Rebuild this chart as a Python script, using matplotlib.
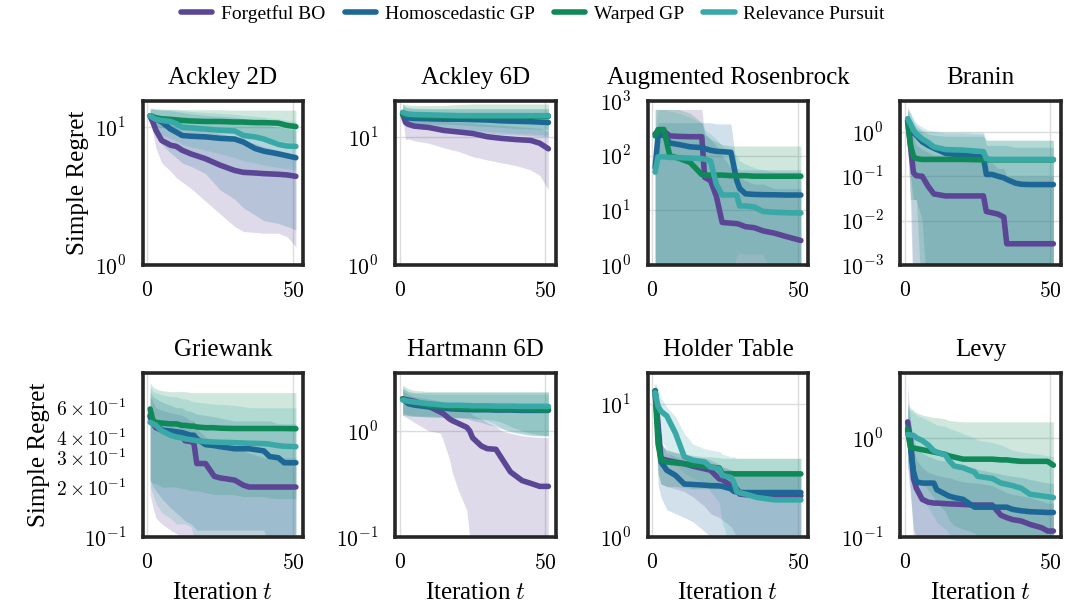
import matplotlib
matplotlib.use("Agg")
import matplotlib.pyplot as plt
from matplotlib.ticker import LogFormatterSciNotation

# ---- global look ----
plt.rcParams["font.family"] = ["Liberation Serif", "DejaVu Serif"]
plt.rcParams["mathtext.fontset"] = "cm"

methods = ["Forgetful BO", "Homoscedastic GP", "Warped GP", "Relevance Pursuit"]
colors = ["#5b4696", "#1d6797", "#0f8957", "#39a9a7"]
titles = ["Ackley 2D", "Ackley 6D", "Augmented Rosenbrock", "Branin",
          "Griewank", "Hartmann 6D", "Holder Table", "Levy"]
ylims = [(1, 15.5), (1, 19), (1, 1000), (1e-3, 5),
         (0.1, 0.97), (0.1, 3.5), (1, 17), (0.1, 4.5)]

# ---- Ackley 2D ----
ack2_x = [1, 2, 3, 5, 8, 10, 12, 15, 20, 25, 30, 33, 37, 40, 45, 48, 51]
ack2_fbo = [12.0, 10.8, 9.5, 8.0, 7.4, 7.25, 6.8, 6.4, 5.9, 5.3, 4.85, 4.7, 4.65, 4.6, 4.55, 4.5, 4.4]
ack2_fbo_lo = [11.5, 9.0, 7.0, 5.5, 4.8, 4.3, 4.0, 3.6, 2.9, 2.35, 1.9, 1.75, 1.72, 1.7, 1.7, 1.6, 1.35]
ack2_fbo_hi = [12.8, 12.6, 12.4, 12.0, 11.5, 11.0, 10.5, 10.0, 9.5, 9.0, 8.5, 8.0, 7.6, 7.2, 6.8, 6.5, 6.2]
ack2_hom = [12.1, 11.8, 11.5, 10.9, 9.7, 9.2, 8.7, 8.6, 8.5, 8.3, 8.2, 7.8, 7.0, 6.7, 6.4, 6.2, 6.0]
ack2_hom_lo = [11.0, 9.5, 8.5, 7.5, 6.5, 6.0, 5.5, 5.2, 4.6, 3.5, 3.0, 2.6, 2.3, 2.1, 2.0, 1.9, 1.8]
ack2_hom_hi = [13.5, 13.5, 13.4, 13.3, 13.2, 13.0, 12.8, 12.5, 12.2, 12.0, 11.8, 11.5, 11.0, 10.5, 10.0, 9.8, 9.5]
ack2_wgp = [12.1, 11.9, 11.7, 11.5, 11.4, 11.3, 11.2, 11.1, 11.0, 11.0, 10.9, 10.9, 10.8, 10.8, 10.7, 10.3, 10.1]
ack2_wgp_lo = [11.0, 10.5, 10.2, 10.0, 9.8, 9.6, 9.5, 9.4, 9.3, 9.2, 9.0, 8.8, 8.5, 8.2, 8.0, 7.8, 7.6]
ack2_wgp_hi = [13.6, 13.6, 13.5, 13.5, 13.5, 13.5, 13.4, 13.4, 13.4, 13.4, 13.3, 13.3, 13.3, 13.3, 13.3, 13.3, 13.3]
ack2_rp = [12.1, 11.7, 11.4, 11.2, 11.0, 10.6, 10.0, 9.9, 9.7, 9.5, 9.4, 8.7, 8.5, 8.2, 7.5, 7.3, 7.25]
ack2_rp_lo = [11.0, 10.0, 9.3, 8.8, 8.3, 8.0, 7.5, 7.2, 6.8, 6.4, 6.0, 5.7, 5.5, 5.3, 5.1, 5.0, 4.9]
ack2_rp_hi = [13.8, 13.8, 13.6, 13.5, 13.4, 13.3, 13.2, 13.0, 12.8, 12.6, 12.4, 12.2, 12.0, 11.8, 11.5, 11.2, 11.0]

# ---- Ackley 6D ----
ack6_x = [1, 2, 3, 5, 10, 15, 20, 25, 30, 35, 40, 45, 48, 51]
ack6_fbo = [15.0, 12.9, 12.5, 12.1, 11.8, 11.2, 10.9, 10.6, 10.0, 9.7, 9.5, 9.35, 8.9, 8.05]
ack6_fbo_lo = [14.0, 9.5, 9.6, 9.3, 8.9, 8.2, 7.7, 7.0, 6.6, 6.25, 5.95, 5.5, 5.0, 3.85]
ack6_fbo_hi = [16.5, 14.5, 14.0, 13.8, 13.5, 13.2, 13.0, 12.8, 12.5, 12.3, 12.0, 11.8, 11.6, 11.0]
ack6_hom = [15.0, 14.3, 14.0, 13.9, 13.8, 13.7, 13.7, 13.6, 13.5, 13.3, 13.2, 13.1, 13.0, 12.9]
ack6_hom_lo = [13.5, 12.0, 11.8, 11.6, 11.4, 11.2, 11.0, 10.8, 10.6, 10.4, 10.3, 10.2, 10.1, 10.0]
ack6_hom_hi = [17.5, 17.0, 16.8, 16.6, 16.5, 16.5, 16.5, 16.5, 16.5, 16.5, 16.5, 16.5, 16.5, 16.5]
ack6_wgp = [15.0, 14.8, 14.7, 14.6, 14.5, 14.5, 14.5, 14.4, 14.4, 14.4, 14.4, 14.4, 14.4, 14.4]
ack6_wgp_lo = [14.0, 13.2, 13.0, 12.8, 12.6, 12.5, 12.4, 12.2, 12.0, 11.8, 11.6, 11.5, 11.4, 11.4]
ack6_wgp_hi = [18.0, 17.8, 17.6, 17.5, 17.5, 17.5, 17.8, 18.0, 18.0, 18.0, 18.0, 18.0, 18.0, 18.0]
ack6_rp = [15.5, 15.2, 15.0, 14.9, 14.8, 14.7, 14.6, 14.6, 14.6, 14.6, 14.6, 14.6, 14.6, 14.6]
ack6_rp_lo = [13.8, 12.5, 12.3, 12.2, 12.0, 11.8, 11.5, 11.2, 11.0, 10.8, 10.6, 10.5, 10.4, 10.3]
ack6_rp_hi = [18.0, 17.0, 16.8, 16.7, 16.6, 16.6, 16.6, 16.6, 16.6, 16.6, 16.6, 16.6, 16.6, 16.6]

# ---- Augmented Rosenbrock ----
rosen_x = [1, 2, 4, 6, 9, 13, 17, 18, 20, 22, 24, 27, 29, 30, 32, 35, 38, 42, 46, 51]
rosen_fbo = [250, 280, 280, 230, 225, 222, 222, 40, 35, 18, 6.0, 5.8, 5.7, 5.5, 5.0, 4.8, 4.2, 3.8, 3.3, 2.8]
rosen_fbo_lo = [0.5, 0.5, 0.5, 0.5, 0.5, 0.5, 0.5, 0.5, 0.5, 0.5, 0.5, 0.5, 0.5, 0.5, 0.5, 0.5, 0.5, 0.5, 0.5, 0.5]
rosen_fbo_hi = [700, 700, 700, 700, 700, 700, 700, 250, 200, 150, 100, 60, 50, 40, 35, 30, 30, 25, 25, 25]
rosen_hom = [60, 230, 240, 170, 160, 145, 140, 135, 125, 120, 118, 115, 35, 25, 20, 19.5, 19.3, 19.2, 19.0, 19.0]
rosen_hom_lo = [0.5, 0.5, 0.5, 0.5, 0.5, 0.5, 0.5, 0.5, 0.5, 0.5, 0.5, 0.5, 0.5, 0.5, 0.5, 0.5, 0.5, 0.5, 0.5, 0.5]
rosen_hom_hi = [150, 400, 400, 400, 400, 400, 400, 400, 400, 380, 380, 380, 60, 55, 55, 55, 55, 55, 55, 55]
rosen_wgp = [230, 300, 300, 100, 90, 75, 45, 44, 44, 44, 44, 43, 43, 43, 43, 42, 42, 42, 42, 42]
rosen_wgp_lo = [0.5, 0.5, 0.5, 0.5, 0.5, 0.5, 0.5, 0.5, 0.5, 0.5, 0.5, 0.5, 0.5, 0.5, 0.5, 0.5, 0.5, 0.5, 0.5, 0.5]
rosen_wgp_hi = [700, 700, 700, 700, 700, 600, 400, 250, 200, 180, 160, 150, 150, 150, 150, 150, 150, 150, 150, 150]
rosen_rp = [50, 95, 95, 93, 92, 90, 88, 86, 80, 30, 19, 19, 19, 12, 12, 11.5, 9.5, 9.2, 9.0, 8.9]
rosen_rp_lo = [0.5, 0.5, 0.5, 0.5, 0.5, 0.5, 0.5, 0.5, 0.5, 0.5, 0.5, 0.5, 1.6, 1.6, 1.6, 1.6, 1.6, 0.5, 0.5, 0.5]
rosen_rp_hi = [300, 700, 700, 650, 600, 500, 400, 300, 250, 200, 150, 120, 100, 80, 70, 60, 55, 50, 50, 50]

# ---- Branin ----
bran_x = [1, 2, 3, 4, 6, 8, 10, 14, 20, 27, 28, 30, 32, 34, 35, 38, 40, 43, 46, 51]
bran_fbo = [1.8, 0.46, 0.12, 0.103, 0.1, 0.06, 0.04, 0.036, 0.036, 0.036, 0.016, 0.015, 0.014, 0.012, 0.003, 0.003, 0.003, 0.003, 0.003, 0.003]
bran_fbo_lo = [0.5, 0.02, 1e-4, 1e-4, 1e-4, 1e-4, 1e-4, 1e-4, 1e-4, 1e-4, 1e-4, 1e-4, 1e-4, 1e-4, 1e-4, 1e-4, 1e-4, 1e-4, 1e-4, 1e-4]
bran_fbo_hi = [3.0, 1.5, 0.8, 0.5, 0.4, 0.35, 0.3, 0.3, 0.3, 0.3, 0.2, 0.2, 0.15, 0.15, 0.1, 0.1, 0.1, 0.1, 0.1, 0.1]
bran_hom = [1.8, 1.1, 0.95, 0.84, 0.6, 0.5, 0.43, 0.33, 0.3, 0.27, 0.11, 0.11, 0.1, 0.092, 0.085, 0.07, 0.066, 0.065, 0.065, 0.065]
bran_hom_lo = [0.8, 0.1, 0.03, 0.03, 0.01, 1e-4, 1e-4, 1e-4, 1e-4, 1e-4, 1e-4, 1e-4, 1e-4, 1e-4, 1e-4, 1e-4, 1e-4, 1e-4, 1e-4, 1e-4]
bran_hom_hi = [3.5, 2.5, 1.8, 1.4, 1.1, 1.0, 1.0, 0.95, 0.95, 0.9, 0.5, 0.5, 0.5, 0.5, 0.5, 0.45, 0.45, 0.45, 0.45, 0.45]
bran_wgp = [1.8, 0.5, 0.28, 0.25, 0.24, 0.24, 0.24, 0.24, 0.24, 0.235, 0.235, 0.235, 0.235, 0.235, 0.235, 0.235, 0.235, 0.235, 0.235, 0.235]
bran_wgp_lo = [0.6, 0.03, 0.03, 0.03, 1e-4, 1e-4, 1e-4, 1e-4, 1e-4, 1e-4, 1e-4, 1e-4, 1e-4, 1e-4, 1e-4, 1e-4, 1e-4, 1e-4, 1e-4, 1e-4]
bran_wgp_hi = [3.0, 2.0, 1.5, 1.2, 1.0, 0.9, 0.85, 0.8, 0.8, 0.8, 0.65, 0.65, 0.65, 0.65, 0.65, 0.65, 0.65, 0.65, 0.65, 0.65]
bran_rp = [2.0, 1.5, 1.1, 0.9, 0.7, 0.58, 0.46, 0.4, 0.39, 0.36, 0.25, 0.24, 0.24, 0.24, 0.24, 0.24, 0.24, 0.24, 0.24, 0.24]
bran_rp_lo = [1.0, 0.2, 1e-4, 1e-4, 1e-4, 1e-4, 1e-4, 1e-4, 1e-4, 1e-4, 1e-4, 1e-4, 1e-4, 1e-4, 1e-4, 1e-4, 1e-4, 1e-4, 1e-4, 1e-4]
bran_rp_hi = [3.5, 2.8, 2.0, 1.6, 1.3, 1.1, 1.05, 1.0, 1.0, 1.0, 0.65, 0.65, 0.65, 0.65, 0.65, 0.65, 0.65, 0.65, 0.65, 0.65]

# ---- Griewank ----
grie_x = [1, 2, 3, 5, 8, 10, 12, 13, 15, 16, 17, 20, 23, 25, 30, 33, 35, 40, 42, 45, 47, 51]
grie_fbo = [0.53, 0.48, 0.455, 0.44, 0.43, 0.425, 0.4, 0.38, 0.375, 0.37, 0.277, 0.277, 0.232, 0.227, 0.22, 0.205, 0.2, 0.2, 0.2, 0.2, 0.2, 0.2]
grie_fbo_lo = [0.18, 0.15, 0.13, 0.12, 0.11, 0.105, 0.1, 0.1, 0.1, 0.09, 0.08, 0.08, 0.08, 0.08, 0.08, 0.08, 0.08, 0.08, 0.08, 0.08, 0.08, 0.08]
grie_fbo_hi = [0.7, 0.65, 0.6, 0.58, 0.56, 0.55, 0.54, 0.53, 0.5, 0.5, 0.45, 0.4, 0.38, 0.36, 0.35, 0.33, 0.32, 0.3, 0.3, 0.3, 0.3, 0.3]
grie_hom = [0.54, 0.5, 0.48, 0.44, 0.435, 0.43, 0.425, 0.42, 0.41, 0.41, 0.39, 0.36, 0.355, 0.35, 0.34, 0.34, 0.34, 0.33, 0.305, 0.3, 0.28, 0.28]
grie_hom_lo = [0.22, 0.2, 0.19, 0.17, 0.15, 0.14, 0.13, 0.125, 0.12, 0.115, 0.11, 0.11, 0.11, 0.11, 0.11, 0.11, 0.11, 0.11, 0.09, 0.09, 0.09, 0.09]
grie_hom_hi = [0.75, 0.7, 0.68, 0.65, 0.62, 0.6, 0.6, 0.58, 0.57, 0.56, 0.55, 0.54, 0.53, 0.52, 0.5, 0.5, 0.5, 0.5, 0.5, 0.48, 0.48, 0.48]
grie_wgp = [0.59, 0.5, 0.49, 0.485, 0.48, 0.48, 0.47, 0.47, 0.465, 0.465, 0.46, 0.455, 0.455, 0.452, 0.45, 0.45, 0.45, 0.45, 0.45, 0.45, 0.45, 0.449]
grie_wgp_lo = [0.22, 0.21, 0.21, 0.2, 0.2, 0.2, 0.195, 0.195, 0.19, 0.19, 0.19, 0.185, 0.18, 0.18, 0.18, 0.175, 0.175, 0.175, 0.172, 0.17, 0.17, 0.17]
grie_wgp_hi = [0.85, 0.8, 0.78, 0.76, 0.75, 0.75, 0.75, 0.75, 0.74, 0.74, 0.74, 0.74, 0.74, 0.74, 0.74, 0.74, 0.74, 0.74, 0.74, 0.74, 0.74, 0.74]
grie_rp = [0.49, 0.48, 0.47, 0.435, 0.41, 0.4, 0.395, 0.39, 0.385, 0.383, 0.38, 0.375, 0.373, 0.372, 0.37, 0.368, 0.367, 0.365, 0.362, 0.355, 0.352, 0.35]
grie_rp_lo = [0.2, 0.18, 0.16, 0.14, 0.13, 0.12, 0.12, 0.12, 0.115, 0.1, 0.09, 0.09, 0.09, 0.09, 0.09, 0.09, 0.09, 0.09, 0.09, 0.09, 0.09, 0.09]
grie_rp_hi = [0.8, 0.75, 0.74, 0.72, 0.7, 0.7, 0.68, 0.68, 0.66, 0.65, 0.65, 0.64, 0.63, 0.63, 0.62, 0.61, 0.6, 0.6, 0.6, 0.6, 0.6, 0.6]

# ---- Hartmann 6D ----
hart_x = [1, 3, 5, 10, 14, 15, 17, 18, 20, 23, 24, 25, 28, 30, 33, 35, 38, 42, 45, 48, 51]
hart_fbo = [2.0, 1.95, 1.9, 1.7, 1.5, 1.45, 1.3, 1.25, 1.18, 1.08, 1.0, 0.86, 0.72, 0.68, 0.67, 0.55, 0.41, 0.34, 0.32, 0.3, 0.3]
hart_fbo_lo = [1.4, 1.3, 1.2, 1.0, 0.95, 0.8, 0.55, 0.41, 0.28, 0.18, 0.1, 0.05, 0.05, 0.05, 0.05, 0.05, 0.05, 0.05, 0.05, 0.05, 0.05]
hart_fbo_hi = [2.4, 2.2, 2.1, 2.0, 1.9, 1.85, 1.8, 1.75, 1.7, 1.6, 1.5, 1.4, 1.3, 1.2, 1.1, 1.0, 0.95, 0.9, 0.88, 0.87, 0.86]
hart_hom = [2.0, 1.8, 1.75, 1.68, 1.65, 1.64, 1.62, 1.61, 1.6, 1.59, 1.59, 1.58, 1.58, 1.58, 1.57, 1.57, 1.57, 1.56, 1.56, 1.56, 1.56]
hart_hom_lo = [1.45, 1.4, 1.38, 1.35, 1.34, 1.34, 1.33, 1.33, 1.32, 1.3, 1.28, 1.25, 1.2, 1.15, 1.1, 1.05, 0.98, 0.93, 0.9, 0.9, 0.9]
hart_hom_hi = [2.5, 2.35, 2.3, 2.3, 2.3, 2.3, 2.3, 2.3, 2.3, 2.3, 2.3, 2.3, 2.3, 2.3, 2.3, 2.3, 2.3, 2.3, 2.3, 2.3, 2.3]
hart_wgp = [2.0, 1.9, 1.85, 1.74, 1.7, 1.69, 1.67, 1.66, 1.65, 1.64, 1.63, 1.63, 1.62, 1.62, 1.61, 1.6, 1.6, 1.59, 1.59, 1.58, 1.58]
hart_wgp_lo = [1.4, 1.38, 1.37, 1.36, 1.35, 1.35, 1.35, 1.34, 1.34, 1.33, 1.33, 1.32, 1.3, 1.28, 1.25, 1.2, 1.1, 1.0, 0.95, 0.92, 0.9]
hart_wgp_hi = [2.7, 2.5, 2.4, 2.35, 2.35, 2.35, 2.35, 2.35, 2.35, 2.35, 2.35, 2.35, 2.35, 2.35, 2.35, 2.35, 2.35, 2.35, 2.35, 2.35, 2.35]
hart_rp = [1.95, 1.9, 1.87, 1.8, 1.76, 1.75, 1.74, 1.74, 1.74, 1.73, 1.73, 1.72, 1.72, 1.72, 1.71, 1.71, 1.71, 1.7, 1.7, 1.7, 1.7]
hart_rp_lo = [1.45, 1.42, 1.4, 1.38, 1.37, 1.36, 1.35, 1.35, 1.34, 1.33, 1.32, 1.3, 1.28, 1.25, 1.15, 1.05, 1.0, 0.95, 0.92, 0.9, 0.9]
hart_rp_hi = [2.6, 2.3, 2.25, 2.2, 2.2, 2.2, 2.2, 2.2, 2.2, 2.2, 2.2, 2.2, 2.2, 2.2, 2.2, 2.2, 2.2, 2.2, 2.2, 2.2, 2.2]

# ---- Holder Table ----
hold_x = [1, 2, 3, 5, 8, 11, 14, 18, 20, 23, 24, 27, 28, 29, 30, 32, 36, 42, 51]
hold_fbo = [12.5, 7.0, 3.88, 3.77, 3.65, 3.55, 3.4, 3.25, 3.17, 2.73, 2.7, 2.43, 2.4, 2.3, 2.1, 2.08, 2.06, 2.05, 2.04]
hold_fbo_lo = [10.0, 3.0, 2.5, 2.4, 2.3, 2.2, 2.0, 1.7, 1.5, 1.4, 1.35, 1.2, 1.1, 1.0, 0.9, 0.8, 0.8, 0.8, 0.8]
hold_fbo_hi = [14.0, 11.0, 5.0, 4.5, 4.3, 4.2, 4.0, 3.9, 3.8, 3.5, 3.4, 3.2, 3.1, 3.0, 2.9, 2.9, 2.9, 2.9, 2.9]
hold_hom = [12.5, 6.2, 3.66, 3.17, 2.9, 2.5, 2.48, 2.45, 2.43, 2.42, 2.4, 2.3, 2.2, 2.18, 2.17, 2.16, 2.16, 2.16, 2.16]
hold_hom_lo = [10.0, 2.5, 2.0, 1.6, 1.5, 1.4, 1.3, 1.1, 1.0, 0.8, 0.8, 0.8, 0.8, 0.8, 0.8, 0.8, 0.8, 0.8, 0.8]
hold_hom_hi = [14.0, 10.0, 5.0, 4.3, 4.0, 3.8, 3.7, 3.6, 3.5, 3.4, 3.3, 3.2, 3.1, 3.0, 3.0, 3.0, 3.0, 3.0, 3.0]
hold_wgp = [12.5, 5.0, 3.8, 3.66, 3.6, 3.55, 3.5, 3.4, 3.35, 3.3, 2.98, 2.98, 2.98, 2.98, 2.98, 2.98, 2.98, 2.98, 2.98]
hold_wgp_lo = [10.0, 3.0, 2.5, 2.4, 2.4, 2.35, 2.3, 2.3, 2.3, 2.3, 2.3, 2.3, 2.3, 2.3, 2.3, 2.3, 2.3, 2.3, 2.3]
hold_wgp_hi = [14.0, 12.0, 5.0, 4.5, 4.3, 4.2, 4.1, 4.0, 4.0, 3.95, 3.9, 3.9, 3.9, 3.9, 3.9, 3.9, 3.9, 3.9, 3.9]
hold_rp = [12.1, 9.6, 8.8, 8.1, 6.0, 4.0, 3.77, 3.66, 3.35, 3.25, 2.9, 2.8, 2.58, 2.2, 2.15, 2.1, 1.98, 1.9, 1.9]
hold_rp_lo = [9.5, 7.0, 5.5, 4.5, 3.5, 3.0, 2.8, 2.5, 2.2, 1.8, 1.3, 0.8, 0.8, 0.8, 0.8, 0.8, 0.8, 0.8, 0.8]
hold_rp_hi = [14.5, 13.0, 11.0, 9.5, 8.0, 6.0, 5.0, 4.6, 4.5, 4.4, 4.2, 4.0, 4.0, 3.9, 3.9, 3.9, 3.9, 3.9, 3.9]

# ---- Levy ----
levy_x = [1, 2, 3, 4, 6, 8, 10, 11, 14, 15, 17, 20, 24, 25, 30, 33, 35, 37, 40, 43, 47, 49, 51]
levy_fbo = [1.45, 0.94, 0.39, 0.31, 0.24, 0.225, 0.22, 0.22, 0.217, 0.216, 0.215, 0.213, 0.21, 0.21, 0.21, 0.166, 0.157, 0.15, 0.145, 0.134, 0.124, 0.115, 0.115]
levy_fbo_lo = [0.6, 0.3, 0.1, 0.08, 0.07, 0.07, 0.07, 0.07, 0.07, 0.07, 0.07, 0.07, 0.07, 0.07, 0.07, 0.07, 0.07, 0.07, 0.07, 0.07, 0.07, 0.07, 0.07]
levy_fbo_hi = [3.3, 1.5, 0.8, 0.6, 0.5, 0.45, 0.43, 0.42, 0.4, 0.4, 0.38, 0.36, 0.35, 0.35, 0.33, 0.3, 0.28, 0.27, 0.26, 0.25, 0.23, 0.22, 0.22]
levy_hom = [1.19, 0.8, 0.46, 0.36, 0.35, 0.35, 0.35, 0.3, 0.27, 0.26, 0.25, 0.24, 0.2, 0.2, 0.2, 0.2, 0.2, 0.19, 0.184, 0.18, 0.178, 0.177, 0.177]
levy_hom_lo = [0.5, 0.25, 0.12, 0.1, 0.09, 0.08, 0.08, 0.08, 0.08, 0.08, 0.08, 0.08, 0.08, 0.08, 0.08, 0.08, 0.08, 0.08, 0.08, 0.08, 0.08, 0.08, 0.08]
levy_hom_hi = [2.0, 1.4, 1.0, 0.8, 0.7, 0.65, 0.62, 0.6, 0.58, 0.56, 0.55, 0.52, 0.5, 0.48, 0.45, 0.43, 0.42, 0.41, 0.4, 0.38, 0.36, 0.35, 0.35]
levy_wgp = [1.24, 0.8, 0.79, 0.78, 0.76, 0.74, 0.72, 0.71, 0.68, 0.66, 0.64, 0.61, 0.61, 0.61, 0.61, 0.6, 0.6, 0.59, 0.58, 0.58, 0.58, 0.58, 0.53]
levy_wgp_lo = [0.6, 0.45, 0.42, 0.4, 0.35, 0.3, 0.25, 0.22, 0.18, 0.15, 0.13, 0.12, 0.11, 0.1, 0.09, 0.09, 0.09, 0.09, 0.09, 0.09, 0.09, 0.09, 0.09]
levy_wgp_hi = [2.2, 2.0, 1.9, 1.8, 1.7, 1.65, 1.6, 1.6, 1.55, 1.5, 1.48, 1.45, 1.45, 1.45, 1.45, 1.45, 1.45, 1.45, 1.45, 1.45, 1.45, 1.45, 1.45]
levy_rp = [1.08, 1.07, 1.06, 1.0, 0.94, 0.85, 0.74, 0.72, 0.67, 0.6, 0.52, 0.5, 0.45, 0.41, 0.39, 0.35, 0.34, 0.33, 0.31, 0.27, 0.26, 0.255, 0.25]
levy_rp_lo = [0.5, 0.4, 0.35, 0.3, 0.25, 0.2, 0.16, 0.14, 0.12, 0.11, 0.1, 0.09, 0.09, 0.09, 0.09, 0.09, 0.09, 0.09, 0.09, 0.09, 0.09, 0.09, 0.09]
levy_rp_hi = [2.0, 1.9, 1.8, 1.7, 1.6, 1.5, 1.4, 1.35, 1.3, 1.25, 1.2, 1.1, 1.0, 0.95, 0.9, 0.85, 0.8, 0.75, 0.72, 0.7, 0.68, 0.66, 0.65]

panels = [
    (ack2_x, [(ack2_fbo, ack2_fbo_lo, ack2_fbo_hi), (ack2_hom, ack2_hom_lo, ack2_hom_hi),
              (ack2_wgp, ack2_wgp_lo, ack2_wgp_hi), (ack2_rp, ack2_rp_lo, ack2_rp_hi)]),
    (ack6_x, [(ack6_fbo, ack6_fbo_lo, ack6_fbo_hi), (ack6_hom, ack6_hom_lo, ack6_hom_hi),
              (ack6_wgp, ack6_wgp_lo, ack6_wgp_hi), (ack6_rp, ack6_rp_lo, ack6_rp_hi)]),
    (rosen_x, [(rosen_fbo, rosen_fbo_lo, rosen_fbo_hi), (rosen_hom, rosen_hom_lo, rosen_hom_hi),
               (rosen_wgp, rosen_wgp_lo, rosen_wgp_hi), (rosen_rp, rosen_rp_lo, rosen_rp_hi)]),
    (bran_x, [(bran_fbo, bran_fbo_lo, bran_fbo_hi), (bran_hom, bran_hom_lo, bran_hom_hi),
              (bran_wgp, bran_wgp_lo, bran_wgp_hi), (bran_rp, bran_rp_lo, bran_rp_hi)]),
    (grie_x, [(grie_fbo, grie_fbo_lo, grie_fbo_hi), (grie_hom, grie_hom_lo, grie_hom_hi),
              (grie_wgp, grie_wgp_lo, grie_wgp_hi), (grie_rp, grie_rp_lo, grie_rp_hi)]),
    (hart_x, [(hart_fbo, hart_fbo_lo, hart_fbo_hi), (hart_hom, hart_hom_lo, hart_hom_hi),
              (hart_wgp, hart_wgp_lo, hart_wgp_hi), (hart_rp, hart_rp_lo, hart_rp_hi)]),
    (hold_x, [(hold_fbo, hold_fbo_lo, hold_fbo_hi), (hold_hom, hold_hom_lo, hold_hom_hi),
              (hold_wgp, hold_wgp_lo, hold_wgp_hi), (hold_rp, hold_rp_lo, hold_rp_hi)]),
    (levy_x, [(levy_fbo, levy_fbo_lo, levy_fbo_hi), (levy_hom, levy_hom_lo, levy_hom_hi),
              (levy_wgp, levy_wgp_lo, levy_wgp_hi), (levy_rp, levy_rp_lo, levy_rp_hi)]),
]


class CMLogFormatter(LogFormatterSciNotation):
    # same labels as matplotlib's default, but drawn in Computer Modern
    def __call__(self, x, pos=None):
        return super().__call__(x, pos).replace(r"\mathdefault", "")


fig, axes = plt.subplots(2, 4, figsize=(10.66, 6.12), dpi=100)
fig.subplots_adjust(left=0.134, right=0.995, top=0.835, bottom=0.1225,
                    wspace=0.575, hspace=0.66)

handles = []
for i, ax in enumerate(axes.flat):
    x, series = panels[i]
    # bands first, then the median lines on top
    for (mid, lo, hi), c in zip(series, colors):
        ax.fill_between(x, lo, hi, color=c, alpha=0.2, linewidth=0)
    for (mid, lo, hi), c, name in zip(series, colors, methods):
        ln, = ax.plot(x, mid, color=c, lw=4, label=name,
                      solid_capstyle="round", solid_joinstyle="round")
        if i == 0:
            handles.append(ln)

    ax.set_yscale("log")
    ax.set_ylim(*ylims[i])
    ax.yaxis.set_major_formatter(CMLogFormatter())
    ax.yaxis.set_minor_formatter(CMLogFormatter(labelOnlyBase=False))
    ax.set_xlim(-1.5, 53.5)
    ax.set_xticks([0, 50])
    ax.set_xticklabels(["$0$", "$50$"])
    ax.set_title(titles[i], fontsize=18, pad=12)
    ax.grid(True, which="major", color="#dcdcdc", lw=1)
    ax.set_axisbelow(True)
    ax.tick_params(which="both", length=0, labelsize=15.5)
    ax.tick_params(axis="y", which="minor", labelsize=14)
    ax.tick_params(axis="x", pad=12)
    ax.tick_params(axis="y", which="both", pad=12)
    for sp in ax.spines.values():
        sp.set_linewidth(2.6)
        sp.set_color("#262626")
    if i % 4 == 0:
        ax.set_ylabel("Simple Regret", fontsize=18)
    if i >= 4:
        ax.set_xlabel("Iteration $t$", fontsize=18, labelpad=6)

fig.legend(handles, methods, loc="upper center", bbox_to_anchor=(0.5, 1.02),
           ncol=4, frameon=False, fontsize=14, handlelength=1.6,
           handletextpad=0.45, columnspacing=1.0)

fig.savefig("out.png", dpi=100)
